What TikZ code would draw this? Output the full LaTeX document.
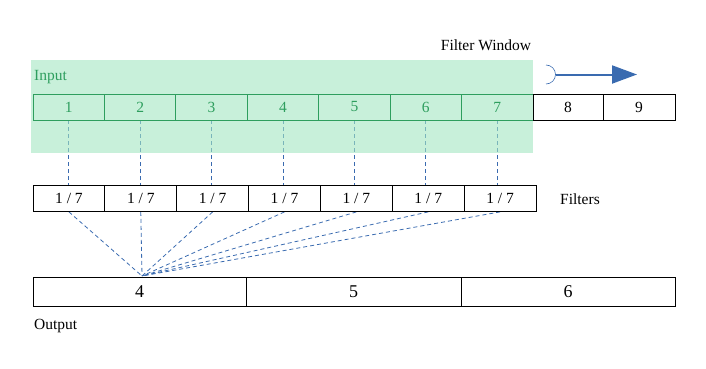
\documentclass[tikz,border=0pt]{standalone}
\usepackage{fontspec}
\setmainfont{Liberation Serif}
\usetikzlibrary{arrows.meta,backgrounds}
\definecolor{wingreen}{RGB}{163,230,193}
\definecolor{ingreen}{RGB}{46,158,94}
\definecolor{lineblue}{RGB}{58,107,176}
\tikzset{
  cell/.style={draw, line width=0.8pt, minimum height=26pt, inner sep=0pt, font=\fontsize{15.5}{18}\selectfont},
  conn/.style={lineblue, dash pattern=on 4pt off 3pt, line width=0.8pt},
  lbl/.style={font=\fontsize{15.5}{18}\selectfont, inner sep=0pt}
}

\begin{document}
\begin{tikzpicture}[x=1pt,y=-1pt]
\useasboundingbox (0,0) rectangle (706,369);

 %input
 \foreach \i in {1,...,7}
   \node[cell, ingreen, minimum width=71.43pt] (in\i) at ({33+71.43*(\i-0.5)},107) {\i};
 \node[cell, minimum width=70pt] (in8) at (568,107) {8};
 \node[cell, minimum width=72pt] (in9) at (639,107) {9};
 \node[lbl, ingreen, anchor=west] (inlbl) at (34,77) {Input};

 %filters
 \foreach \i in {1,...,7}
   \node[cell, minimum width=71.86pt] (f\i) at ({33+71.86*(\i-0.5)},198.5) {1 / 7};
 \node[lbl] (flbl) at (580,199) {Filters};

 %output
 \node[cell, minimum width=213pt, minimum height=29pt, font=\fontsize{18}{21}\selectfont] (out1) at (139.5,291.5) {4};
 \node[cell, minimum width=215pt, minimum height=29pt, font=\fontsize{18}{21}\selectfont] (out2) at (353.5,291.5) {5};
 \node[cell, minimum width=214pt, minimum height=29pt, font=\fontsize{18}{21}\selectfont] (out3) at (568,291.5) {6};
 \node[lbl, anchor=west] (olbl) at (34,326) {Output};

 %window
 \node[lbl] (wlbl) at (486,45) {Filter Window};
 \coordinate (ws) at (556,74.5);
 \coordinate (we) at (637,74.5);
 \draw[lineblue, line width=2pt, -{Triangle[length=25pt,width=18pt]}] (ws) -- (we);
 \draw[lineblue, line width=0.6pt] (546,84) arc (90:-90:9.5);

 \coordinate (hub) at (142,276);
 \begin{scope}[on background layer]
   \foreach \i in {1,...,7} {
     \draw[conn] (in\i.south) -- (in\i.south |- f\i.north);
     \draw[conn] (f\i.south) -- (hub);
   }
   \fill[wingreen, fill opacity=0.6] (31,60) rectangle (533,153);
 \end{scope}
\end{tikzpicture}
\end{document}
